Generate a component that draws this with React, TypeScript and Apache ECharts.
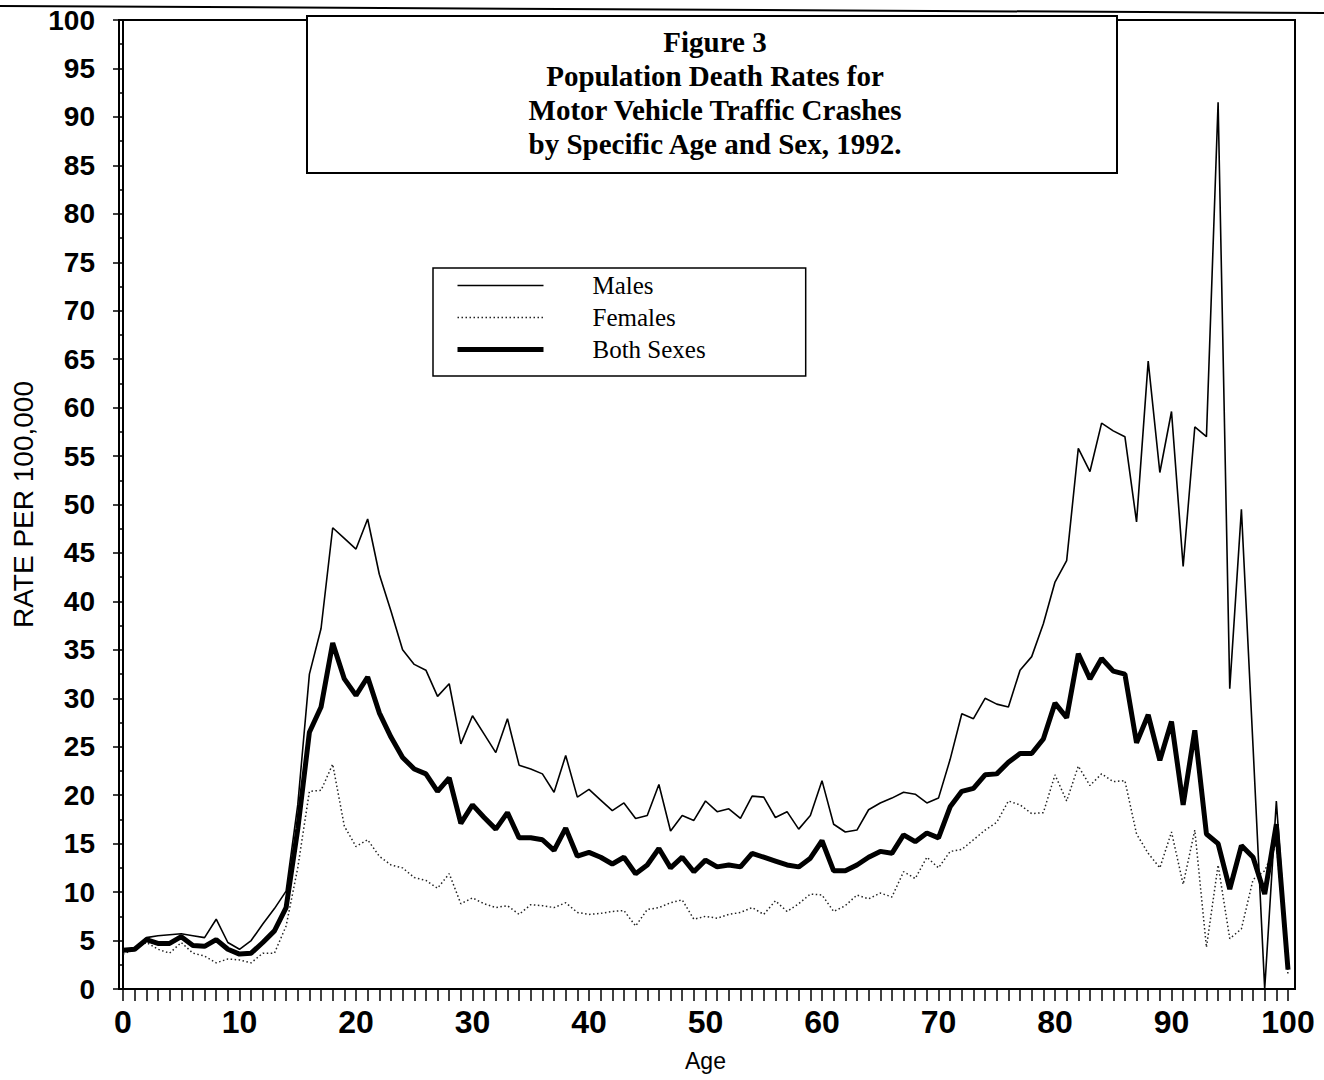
import React, { useEffect, useRef } from "react";
import * as echarts from "echarts";

const ages = [
  0, 1, 2, 3, 4, 5, 6, 7, 8, 9, 10, 11, 12, 13, 14, 15, 16, 17, 18, 19, 20,
  21, 22, 23, 24, 25, 26, 27, 28, 29, 30, 31, 32, 33, 34, 35, 36, 37, 38, 39, 40,
  41, 42, 43, 44, 45, 46, 47, 48, 49, 50, 51, 52, 53, 54, 55, 56, 57, 58, 59, 60,
  61, 62, 63, 64, 65, 66, 67, 68, 69, 70, 71, 72, 73, 74, 75, 76, 77, 78, 79, 80,
  81, 82, 83, 84, 85, 86, 87, 88, 89, 90, 91, 92, 93, 94, 95, 96, 97, 98, 99, 100,
];

const males = [
  4.1, 4.1, 5.3, 5.5, 5.6, 5.7, 5.5, 5.3, 7.2, 4.8, 4.1,
  5.0, 6.7, 8.3, 10.1, 19.0, 32.5, 37.2, 47.6, 46.5, 45.4,
  48.5, 42.8, 39.0, 35.0, 33.5, 32.9, 30.2, 31.5, 25.3, 28.2,
  26.3, 24.4, 27.9, 23.1, 22.7, 22.2, 20.3, 24.1, 19.8, 20.6,
  19.5, 18.4, 19.2, 17.6, 17.9, 21.1, 16.3, 17.9, 17.4, 19.4,
  18.3, 18.6, 17.6, 19.9, 19.8, 17.7, 18.3, 16.5, 17.9, 21.5,
  17.0, 16.2, 16.4, 18.5, 19.2, 19.7, 20.3, 20.1, 19.2, 19.7,
  23.7, 28.4, 27.9, 30.0, 29.4, 29.1, 32.9, 34.3, 37.7, 42.0,
  44.2, 55.8, 53.4, 58.4, 57.6, 57.0, 48.2, 64.8, 53.3, 59.6,
  43.6, 58.0, 57.0, 91.5, 31.0, 49.5, 25.0, 0.0, 19.4, 2.0,
];

const females = [
  3.6, 4.1, 4.8, 4.1, 3.7, 4.8, 3.7, 3.4, 2.7, 3.1, 3.0,
  2.7, 3.7, 3.7, 6.5, 12.5, 20.4, 20.5, 23.2, 16.8, 14.7,
  15.4, 13.7, 12.8, 12.5, 11.5, 11.2, 10.4, 11.9, 8.8, 9.4,
  8.8, 8.4, 8.6, 7.7, 8.7, 8.6, 8.4, 8.9, 7.9, 7.7,
  7.8, 8.0, 8.1, 6.5, 8.2, 8.4, 8.9, 9.2, 7.2, 7.5,
  7.3, 7.7, 7.9, 8.4, 7.7, 9.1, 8.0, 8.8, 9.8, 9.7,
  8.0, 8.6, 9.7, 9.3, 9.9, 9.5, 12.1, 11.4, 13.6, 12.5,
  14.2, 14.4, 15.4, 16.4, 17.2, 19.4, 19.0, 18.1, 18.2, 22.1,
  19.4, 23.0, 21.0, 22.2, 21.4, 21.5, 16.0, 14.0, 12.5, 16.2,
  10.8, 16.4, 4.3, 12.8, 5.2, 6.2, 11.3, 12.2, 15.0, 1.5,
];

const bothSexes = [
  4.0, 4.1, 5.1, 4.7, 4.7, 5.4, 4.5, 4.4, 5.1, 4.1, 3.6,
  3.7, 4.8, 6.0, 8.4, 16.5, 26.5, 29.1, 35.7, 32.0, 30.3,
  32.2, 28.5, 26.0, 23.9, 22.7, 22.2, 20.4, 21.8, 17.1, 19.0,
  17.7, 16.5, 18.2, 15.6, 15.6, 15.4, 14.3, 16.6, 13.7, 14.1,
  13.6, 12.9, 13.6, 11.9, 12.8, 14.5, 12.5, 13.6, 12.1, 13.3,
  12.6, 12.8, 12.6, 14.0, 13.6, 13.2, 12.8, 12.6, 13.5, 15.3,
  12.2, 12.2, 12.8, 13.6, 14.2, 14.0, 15.9, 15.2, 16.1, 15.6,
  18.8, 20.4, 20.7, 22.1, 22.2, 23.4, 24.3, 24.3, 25.8, 29.5,
  28.0, 34.6, 32.0, 34.1, 32.8, 32.5, 25.4, 28.3, 23.6, 27.6,
  19.0, 26.7, 16.0, 15.0, 10.3, 14.8, 13.6, 9.8, 17.0, 2.0,
];

const seriesNames = ["Males", "Females", "Both Sexes"];
const titleLines = [
  "Figure 3",
  "Population Death Rates for",
  "Motor Vehicle Traffic Crashes",
  "by Specific Age and Sex, 1992.",
];
const xAxisTitle = "Age";
const yAxisTitle = "RATE PER 100,000";

export default function App() {
  const ref = useRef<HTMLDivElement>(null);

  useEffect(() => {
    if (!ref.current) return;
    const chart = echarts.init(ref.current, undefined, { renderer: "svg" });
    const sans = "'Liberation Sans', Arial, sans-serif";
    const serif = "'Liberation Serif', 'Times New Roman', serif";

    const toPairs = (vals: number[]) => ages.map((a, i) => [a, vals[i]]);

    const maleLine = { color: "#000", width: 1.6 };
    const femaleLine = { color: "#222", width: 1.5, type: [1.5, 2.5] };
    const bothLine = { color: "#000", width: 5 };

    const option: any = {
      animation: false,
      backgroundColor: "#ffffff",
      title: {
        text: titleLines.join("\n"),
        left: 710,
        top: 20,
        textAlign: "center",
        textStyle: {
          fontFamily: serif,
          fontWeight: "bold",
          fontSize: 29,
          lineHeight: 34,
          color: "#000",
        },
        z: 10,
      },
      legend: {
        data: [
          { name: seriesNames[0], lineStyle: maleLine },
          { name: seriesNames[1], lineStyle: femaleLine },
          { name: seriesNames[2], lineStyle: bothLine },
        ],
        orient: "vertical",
        left: 433,
        top: 268,
        itemWidth: 86,
        itemHeight: 14,
        itemGap: 7,
        padding: [5, 100, 14, 22],
        backgroundColor: "#ffffff",
        borderColor: "#000",
        borderWidth: 1.5,
        itemStyle: { color: "rgba(0,0,0,0)", borderWidth: 0, opacity: 0 },
        textStyle: {
          fontFamily: serif,
          fontSize: 25,
          color: "#000",
          padding: [0, 0, 0, 44],
        },
      },
      grid: { left: 123, right: 36, top: 20, bottom: 91, containLabel: false },
      xAxis: {
        type: "value",
        min: 0,
        max: 100,
        interval: 1,
        name: xAxisTitle,
        nameLocation: "middle",
        nameGap: 60,
        nameTextStyle: { fontFamily: sans, fontSize: 23, color: "#000" },
        axisLine: { show: true, lineStyle: { color: "#000", width: 2 } },
        axisTick: { show: true, length: 12, lineStyle: { color: "#000", width: 1.5 } },
        axisLabel: {
          formatter: (v: number) => (v % 10 === 0 ? String(v) : ""),
          fontFamily: sans,
          fontWeight: "bold",
          fontSize: 32,
          color: "#000",
          margin: 17,
        },
        splitLine: { show: false },
      },
      yAxis: {
        type: "value",
        min: 0,
        max: 100,
        interval: 5,
        offset: 4,
        name: yAxisTitle,
        nameLocation: "middle",
        nameGap: 80,
        nameRotate: 90,
        nameTextStyle: { fontFamily: sans, fontSize: 28, color: "#000" },
        axisLine: { show: true, lineStyle: { color: "#000", width: 2 } },
        axisTick: { show: true, length: 10, lineStyle: { color: "#000", width: 1.5 } },
        minorTick: { show: true, splitNumber: 2, length: 5, lineStyle: { color: "#000", width: 1.5 } },
        axisLabel: {
          fontFamily: sans,
          fontWeight: "bold",
          fontSize: 28,
          color: "#000",
          margin: 24,
        },
        splitLine: { show: false },
        minorSplitLine: { show: false },
      },
      graphic: [
        {
          type: "line",
          shape: { x1: 0, y1: 6, x2: 1324, y2: 13 },
          style: { stroke: "#000", lineWidth: 2 },
          z: 1,
        },
        {
          type: "rect",
          shape: { x: 119, y: 20, width: 1176, height: 969 },
          style: { fill: "none", stroke: "#000", lineWidth: 2 },
          z: 1,
        },
        {
          type: "rect",
          shape: { x: 307, y: 16, width: 810, height: 157 },
          style: { fill: "#ffffff", stroke: "#000", lineWidth: 2 },
          z: 5,
        },
      ],
      series: [
        {
          name: seriesNames[0],
          type: "line",
          data: toPairs(males),
          symbol: "none",
          lineStyle: maleLine,
          itemStyle: { color: "#000" },
        },
        {
          name: seriesNames[1],
          type: "line",
          data: toPairs(females),
          symbol: "none",
          lineStyle: femaleLine,
          itemStyle: { color: "#222" },
        },
        {
          name: seriesNames[2],
          type: "line",
          data: toPairs(bothSexes),
          symbol: "none",
          lineStyle: bothLine,
          itemStyle: { color: "#000" },
        },
      ],
    };

    chart.setOption(option);
    return () => chart.dispose();
  }, []);

  return (
    <div
      ref={ref}
      style={{ position: "absolute", left: 0, top: 0, width: 1324, height: 1080 }}
    />
  );
}
